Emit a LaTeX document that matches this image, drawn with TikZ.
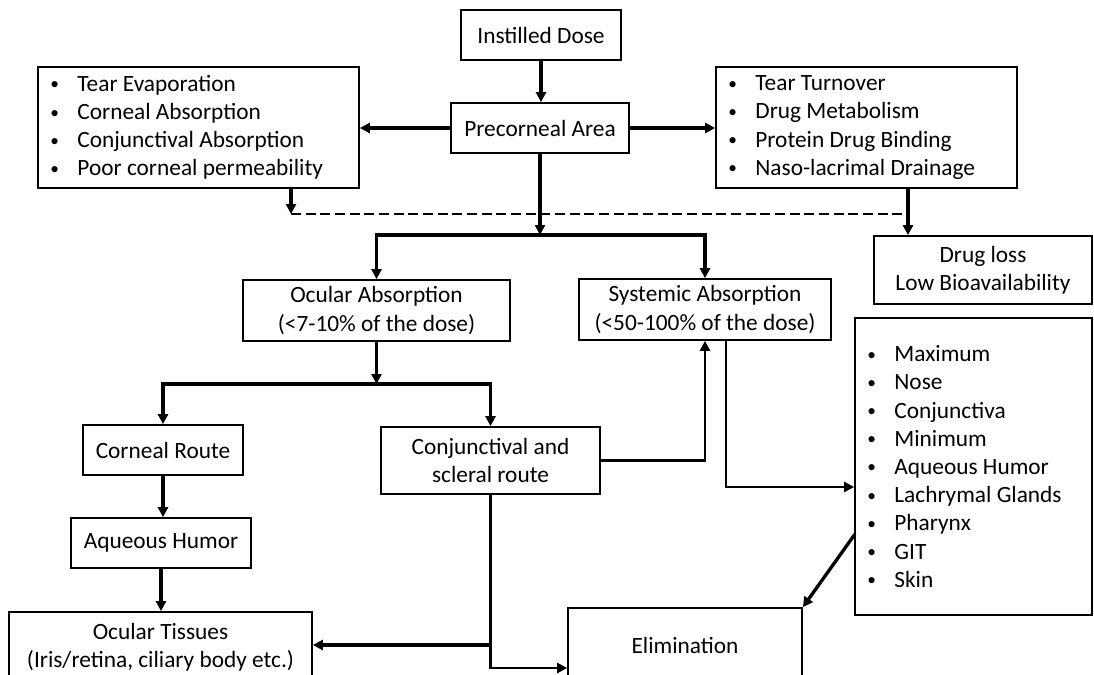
\documentclass[tikz,border=0pt]{standalone}
\usepackage{fontspec}
\setmainfont{Carlito}
\usetikzlibrary{arrows.meta}
\newcommand\bitem{\makebox[20.25pt][l]{\raisebox{1.1pt}{\fontsize{13}{13}\selectfont •}}}
\begin{document}
\begin{tikzpicture}[x=0.75pt,y=-0.75pt,
  box/.style={draw=black, line width=1.3pt, fill=white, inner sep=0pt, align=center,
    font=\fontsize{17.5}{21.15}\selectfont},
  listtext/.style={inner sep=0pt, align=left, anchor=west,
    font=\fontsize{17.5}{21.15}\selectfont},
  arr/.style={line width=2.5pt, -{Triangle[length=7.5pt,width=7.5pt]}},
  arrthin/.style={line width=2.2pt, -{Triangle[length=7.5pt,width=7.5pt]}},
  dashline/.style={line width=2pt, dash pattern=on 7.5pt off 3.5pt}]
\useasboundingbox (0,0) rectangle (1094,674);
\fill[white] (0,0) rectangle (1094,674);
\clip (0,0) rectangle (1094,674);

% nodes
\node[box, minimum width=160*0.75pt, minimum height=50*0.75pt] (dose) at (541,35) {Instilled Dose};
\node[box, minimum width=178*0.75pt, minimum height=50*0.75pt] (pre) at (540,128) {Precorneal Area};
\node[box, minimum width=321*0.75pt, minimum height=121*0.75pt] (lbox) at (198.5,127.5) {};
\node[listtext] (lboxt) at ([xshift=13*0.75pt]lbox.west)
  {\bitem Tear Evaporation\\ \bitem Corneal Absorption\\ \bitem Conjunctival Absorption\\ \bitem Poor corneal permeability};
\node[box, minimum width=301*0.75pt, minimum height=121*0.75pt] (rbox) at (866.5,127.5) {};
\node[listtext] (rboxt) at ([xshift=13*0.75pt]rbox.west)
  {\bitem Tear Turnover\\ \bitem Drug Metabolism\\ \bitem Protein Drug Binding\\ \bitem Naso-lacrimal Drainage};
\node[box, minimum width=218*0.75pt, minimum height=68*0.75pt] (loss) at (983,270) {Drug loss\\Low Bioavailability};
\node[box, minimum width=267*0.75pt, minimum height=61*0.75pt] (oab) at (376.5,310.5) {Ocular Absorption\\(<7-10\% of the dose)};
\node[box, minimum width=252*0.75pt, minimum height=61*0.75pt] (sab) at (705,309.5) {Systemic Absorption\\(<50-100\% of the dose)};
\node[box, minimum width=160*0.75pt, minimum height=50*0.75pt] (cor) at (163,450) {Corneal Route};
\node[box, minimum width=180*0.75pt, minimum height=50*0.75pt] (aq) at (161,543) {Aqueous Humor};
\node[box, minimum width=303*0.75pt, minimum height=70*0.75pt] (tis) at (160.5,647) {Ocular Tissues\\(Iris/retina, ciliary body etc.)};
\node[box, minimum width=219*0.75pt, minimum height=67*0.75pt] (conj) at (490.5,460.5) {Conjunctival and\\scleral route};
\node[box, minimum width=237*0.75pt, minimum height=297*0.75pt] (mx) at (973.5,466.5) {};
\node[listtext] (mxt) at ([xshift=13*0.75pt]mx.west)
  {\bitem Maximum\\ \bitem Nose\\ \bitem Conjunctiva\\ \bitem Minimum\\ \bitem Aqueous Humor\\ \bitem Lachrymal Glands\\ \bitem Pharynx\\ \bitem GIT\\ \bitem Skin};
\node[box, minimum width=234*0.75pt, minimum height=74*0.75pt] (elim) at (685,645) {Elimination};

% junction coordinates
\coordinate (j1) at (540,235);
\coordinate (dl) at (291,214);
\coordinate (dr) at (908,214);
\coordinate (j2) at (377,384);
\coordinate (s2) at (726,487);
\coordinate (c1) at (490,645);
\coordinate (c2) at (490,668);
\coordinate (m1) at (855,534);

% connectors
\draw[arr] (dose.south) -- (dose.south |- pre.north);
\draw[arr] (pre.west) -- (pre.west -| lbox.east);
\draw[arr] (pre.east) -- (pre.east -| rbox.west);
\draw[dashline] (dl) -- (dr);
\draw[arr] (dl |- lbox.south) -- (dl);
\draw[arr] (dr |- rbox.south) -- (dr |- loss.north);
\draw[arr] (pre.south) -- (j1);
\draw[arr] (j1) -| (oab.north);
\draw[arr] (j1) -| (sab.north);
\draw[arr] (oab.south) -- (oab.south |- j2);
\draw[arr] (j2) -| (cor.north);
\draw[arr] (j2) -| (conj.north);
\draw[arr] (cor.south) -- (cor.south |- aq.north);
\draw[arr] (aq.south) -- (aq.south |- tis.north);
\draw[arrthin] (conj.east) -| (sab.south);
\draw[arrthin] (s2 |- sab.south) |- (mx.west |- s2);
\draw[arrthin] (conj.south) |- (elim.west |- c2);
\draw[arr] (c1) -- (tis.east |- c1);
\draw[arr] (m1) -- (elim.north east);
\end{tikzpicture}
\end{document}
